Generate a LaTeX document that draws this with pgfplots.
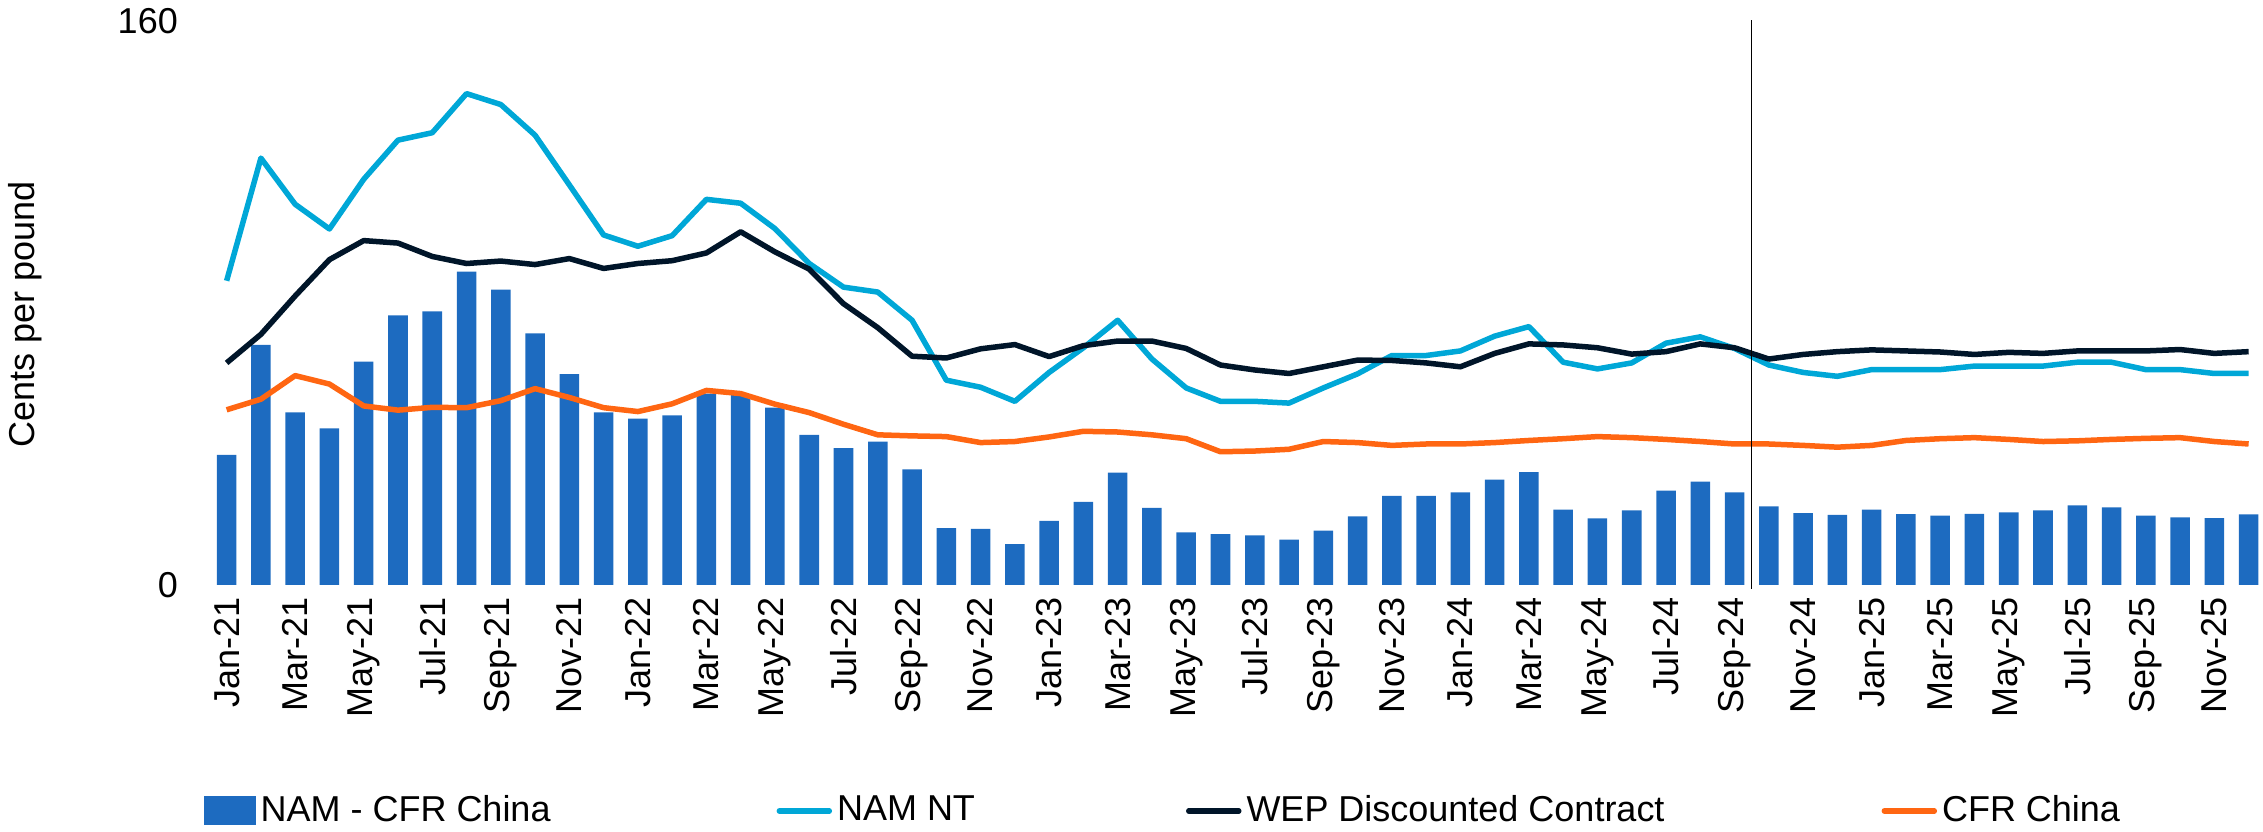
\documentclass[border=0pt]{standalone}
\usepackage{fontspec}
\setmainfont{Liberation Sans}
\usepackage{pgfplots}
\pgfplotsset{compat=1.18}
\usepackage{pgfplotstable}
\definecolor{barblue}{HTML}{1D6BC0}
\definecolor{ltblue}{HTML}{00A7D7}
\definecolor{navy}{HTML}{001529}
\definecolor{orng}{HTML}{FF6612}

\pgfplotstableread{
x b n w c
0 36.9 86.3 63.0 49.7
1 68.1 121.1 71.1 52.7
2 49.0 108.0 82.0 59.4
3 44.4 101.0 92.3 57.0
4 63.4 115.1 97.7 50.8
5 76.5 126.2 97.0 49.6
6 77.6 128.3 93.2 50.4
7 88.9 139.4 91.2 50.3
8 83.8 136.3 91.9 52.3
9 71.4 127.6 90.9 55.7
10 59.8 113.5 92.6 53.2
11 49.0 99.3 89.8 50.3
12 47.2 96.1 91.2 49.2
13 48.1 99.1 92.0 51.4
14 54.3 109.4 94.2 55.2
15 54.0 108.3 100.2 54.3
16 50.3 101.1 94.5 51.3
17 42.6 91.2 89.6 48.9
18 38.8 84.5 79.8 45.6
19 40.7 83.1 73.0 42.6
20 32.8 75.1 64.9 42.3
21 16.1 58.1 64.4 42.1
22 15.9 56.1 67.0 40.4
23 11.6 52.1 68.2 40.7
24 18.2 60.3 64.8 42.0
25 23.6 67.3 67.9 43.6
26 31.9 75.1 69.2 43.4
27 21.9 64.1 69.2 42.6
28 14.9 55.9 67.1 41.5
29 14.4 52.1 62.4 37.8
30 14.1 52.1 61.0 38.0
31 12.9 51.6 60.0 38.5
32 15.4 55.9 61.9 40.7
33 19.5 59.9 63.8 40.4
34 25.3 65.1 63.7 39.6
35 25.3 65.1 63.0 40.0
36 26.3 66.4 61.9 40.0
37 29.9 70.6 65.7 40.4
38 32.0 73.3 68.4 41.0
39 21.4 63.2 68.1 41.5
40 18.9 61.3 67.3 42.1
41 21.2 63.0 65.5 41.8
42 26.8 68.6 66.2 41.3
43 29.3 70.4 68.4 40.7
44 26.3 67.1 67.3 40.0
45 22.3 62.4 64.1 40.0
46 20.4 60.3 65.4 39.6
47 19.9 59.2 66.2 39.1
48 21.4 61.1 66.7 39.6
49 20.1 61.1 66.4 41.0
50 19.7 61.1 66.1 41.5
51 20.2 62.1 65.4 41.8
52 20.6 62.1 66.0 41.3
53 21.2 62.1 65.7 40.7
54 22.6 63.2 66.4 40.9
55 22.0 63.2 66.4 41.3
56 19.7 61.1 66.4 41.6
57 19.2 61.1 66.8 41.8
58 19.0 60.0 65.7 40.7
59 20.0 60.0 66.2 40.0
}\data

\begin{document}
\fontsize{10.24}{12.3}\selectfont
\begin{tikzpicture}
\begin{axis}[name=ax, scale only axis, width=205.35mm, height=56.4mm,
  xmin=-0.5, xmax=59.42, ymin=0, ymax=160, clip=false,
  axis line style={draw=none}, major tick length=0pt,
  font=\fontsize{10.24}{12.3}\selectfont,
  ytick={0,160}, yticklabels={0,160},
  yticklabel style={anchor=east, inner sep=0pt}, yticklabel shift=3.1mm,
  xtick={0,2,...,58},
  xticklabels={Jan-21,Mar-21,May-21,Jul-21,Sep-21,Nov-21,Jan-22,Mar-22,May-22,Jul-22,Sep-22,Nov-22,Jan-23,Mar-23,May-23,Jul-23,Sep-23,Nov-23,Jan-24,Mar-24,May-24,Jul-24,Sep-24,Nov-24,Jan-25,Mar-25,May-25,Jul-25,Sep-25,Nov-25},
  xticklabel style={rotate=90, anchor=east, inner sep=0pt}, xticklabel shift=1.2mm,
  ylabel={Cents per pound},
  ylabel style={at={(axis description cs:-0.08985,0.48)}, anchor=center, inner sep=0pt},
  legend columns=4,
  legend style={draw=none, fill=none, inner sep=0pt, at={(axis description cs:-0.0032,-0.4007)}, anchor=west,
    /tikz/every even column/.append style={column sep=21.4mm},
    /tikz/every odd column/.append style={column sep=0.5mm},
    nodes={inner sep=0pt, anchor=west}, font=\fontsize{10.24}{12.3}\selectfont},
  legend image code/.code={\draw[#1, line cap=round] (0.2mm,0mm) -- (5.2mm,0mm);}
]
\addplot[ybar, bar width=0.57, fill=barblue, draw=none,
  legend image code/.code={\fill[barblue] (0mm,-1.45mm) rectangle (5.2mm,1.45mm);}] table[x=x,y=b] {\data};
\addlegendentry{NAM - CFR China\rule{1.2mm}{0pt}}
\addplot[ltblue, line width=0.55mm, line join=round] table[x=x,y=n] {\data};
\addlegendentry{NAM NT\hspace{-0.3mm}\rule{0pt}{0pt}}
\addplot[navy, line width=0.55mm, line join=round] table[x=x,y=w] {\data};
\addlegendentry{WEP Discounted Contract\rule{0.3mm}{0pt}}
\addplot[orng, line width=0.55mm, line join=round] table[x=x,y=c] {\data};
\addlegendentry{CFR China}
\addplot[black, line width=0.15mm, forget plot] coordinates {(44.5,-1) (44.5,160.3)};
\end{axis}
\pgfresetboundingbox
\path[use as bounding box] ([xshift=-20.95mm,yshift=-24.7mm]ax.south west) rectangle ([yshift=2.1mm]ax.north east);
\end{tikzpicture}
\end{document}
